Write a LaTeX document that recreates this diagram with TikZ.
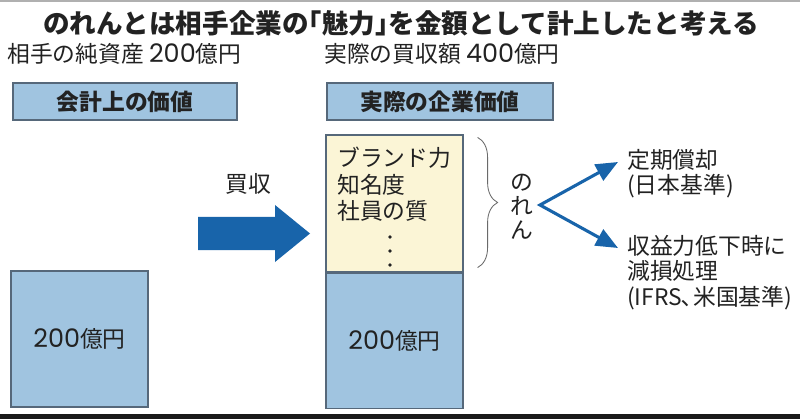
\documentclass[tikz,border=0pt]{standalone}
\usepackage{fontspec}
\setmainfont{Noto Sans CJK JP}
\newfontfamily\nrlatin{Poppins}[Scale=1.12]
\usetikzlibrary{arrows.meta,calc,decorations.pathreplacing}
\definecolor{nr01}{HTML}{A0C4E0}
\definecolor{nr02}{HTML}{FBF5D6}
\definecolor{nr03}{HTML}{1864AA}
\definecolor{nr04}{HTML}{56687A}
\definecolor{nr05}{HTML}{222222}
\definecolor{nr06}{HTML}{6A6A6A}
\definecolor{nr07}{HTML}{B0B0B0}
\definecolor{nr08}{HTML}{1A1A1A}
\newcommand{\nrbody}{\fontsize{16.2}{17.8}\selectfont}
\newcommand{\nrbold}{\fontsize{16.2}{17.8}\selectfont\bfseries}
\newcommand{\nrtitle}{\fontsize{18.9}{22}\selectfont\bfseries}
\newcommand{\nrl}[1]{{\nrlatin #1}}
\tikzset{
  valuebox/.style={rectangle, draw=nr04, fill=nr01, line width=0.8pt, inner sep=0pt, text=nr05},
  plain/.style={inner sep=0pt, text=nr05, font=\nrbody},
  forkarrow/.style={nr03, line width=2.2pt, line join=miter,
    {Triangle[length=0.55cm,width=0.45cm]}-{Triangle[length=0.55cm,width=0.45cm]}},
}
\begin{document}
\begin{tikzpicture}[x=0.025cm,y=-0.025cm]
            \useasboundingbox (0,0) rectangle (800,419);
            \fill[white] (0,0) rectangle (800,419);
            \fill[nr07] (0,0) rectangle (800,2);
            \fill[nr08] (0,414) rectangle (800,419);
            % headings
            \node[plain, font=\nrtitle] (title) at (401,23) {のれんとは相手企業の｢魅力｣を金額として計上したと考える};
            \node[plain, anchor=west] (subA) at (7,54) {相手の純資産 \nrl{200}億円};
            \node[plain, anchor=west] (subB) at (324,54) {実際の買収額 \nrl{400}億円};
            \node[valuebox, font=\nrbold, minimum width=5.6cm, minimum height=0.925cm] (hdrA) at (125,101.5) {会計上の価値};
            \node[valuebox, font=\nrbold, minimum width=5.65cm, minimum height=0.925cm] (hdrB) at (440,101.5) {実際の企業価値};
            % boxes
            \node[valuebox, font=\nrbody, minimum width=3.425cm, minimum height=3.4cm] (lowA) at (79.5,339) {\nrl{200}億円};
            \node[valuebox, fill=nr02, minimum width=3.425cm, minimum height=3.425cm] (goodwill) at (394.5,203.5) {};
            \node[valuebox, font=\nrbody, minimum width=3.425cm, minimum height=3.375cm, anchor=north] (lowB) at (goodwill.south) {\nrl{200}億円};
            \node[plain, anchor=north west, align=left, font=\fontsize{16.2}{19}\selectfont] (items) at (337,146.5) {ブランド力\\知名度\\社員の質};
            \foreach \y in {237,251,265} \fill[nr05] (390,\y) circle (1.8);
            % acquisition
            \node[plain] (buyLbl) at (248,184) {買収};
            \fill[nr03] (198,217) -- (275,217) -- (275,205) -- (310,233.5) -- (275,262) -- (275,250) -- (198,250) -- cycle;
            % goodwill
            \draw[nr06, line width=0.6pt, decorate, decoration={brace, amplitude=0.5cm}]
              ($(goodwill.north east)+(14,3)$) -- ($(goodwill.south east)+(14,-5)$);
            \node[plain, align=center, font=\fontsize{16.2}{17.2}\selectfont] (noren) at (522,207) {の\\れ\\ん};
            \coordinate (fork) at (540,205);
            \coordinate (tipA) at (618,162);
            \coordinate (tipB) at (618,248);
            \draw[forkarrow] (tipA) -- (fork) -- (tipB);
            \node[plain, anchor=north west, align=left] (amort) at (627,149.5) {定期償却\\(日本基準)};
            \node[plain, anchor=north west, align=left] (impair) at (627,235.5) {収益力低下時に\\減損処理\\(IFRS､米国基準)};
        \end{tikzpicture}
\end{document}
